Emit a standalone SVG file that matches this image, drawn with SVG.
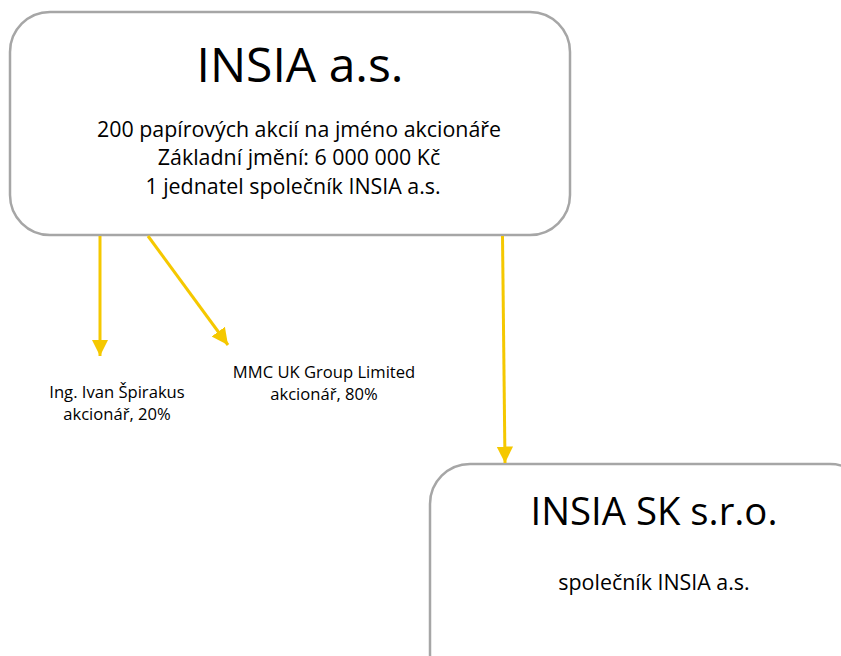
<svg xmlns="http://www.w3.org/2000/svg" width="841" height="656" viewBox="0 0 841 656">
<style>
text{font-family:"Open Sans","Liberation Sans",sans-serif;fill:#000;text-anchor:middle}
.box{fill:#fff;stroke:#a6a6a6;stroke-width:2.5}
.con{stroke:#f5c800;stroke-width:3;fill:none}
.t1{font-size:48px}
.t2{font-size:21.4px}
.t3{font-size:16.6px}
</style>
<defs>
<marker id="ah" viewBox="0 0 10 10" refX="10" refY="5" markerWidth="5.5" markerHeight="6" markerUnits="strokeWidth" orient="auto">
<path d="M0,0 L10,5 L0,10 Z" fill="#f5c800"/>
</marker>
</defs>
<rect width="841" height="656" fill="#fff"/>
<g id="insia-as">
<rect class="box" x="10" y="12" width="560" height="223" rx="40" ry="40"/>
<text class="t1" x="300" y="82">INSIA a.s.</text>
<text class="t2" x="299" y="137">200 papírových akcií na jméno akcionáře</text>
<text class="t2" x="299" y="165">Základní jmění: 6 000 000 Kč</text>
<text class="t2" x="293" y="194">1 jednatel společník INSIA a.s.</text>
</g>
<g id="insia-sk">
<rect class="box" x="430" y="464" width="440" height="230" rx="40" ry="40"/>
<text class="t1" x="654" y="525" style="font-size:38.3px">INSIA SK s.r.o.</text>
<text class="t2" x="654" y="590">společník INSIA a.s.</text>
</g>
<g id="spirakus">
<text class="t3" x="117" y="398">Ing. Ivan Špirakus</text>
<text class="t3" x="117" y="420">akcionář, 20%</text>
</g>
<g id="mmc">
<text class="t3" x="324" y="378">MMC UK Group Limited</text>
<text class="t3" x="324" y="400">akcionář, 80%</text>
</g>
<g id="connectors">
<line class="con" x1="100" y1="236" x2="100" y2="356" marker-end="url(#ah)"/>
<line class="con" x1="148" y1="236" x2="228" y2="345" marker-end="url(#ah)"/>
<line class="con" x1="502.5" y1="236" x2="505" y2="463" marker-end="url(#ah)"/>
</g>
</svg>
